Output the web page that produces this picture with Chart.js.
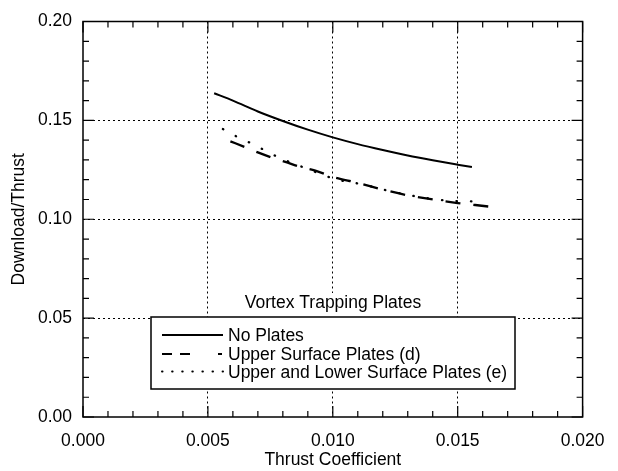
<!DOCTYPE html>
<html>
<head>
<meta charset="utf-8">
<script src="https://cdn.jsdelivr.net/npm/chart.js@4.4.1/dist/chart.umd.min.js"></script>
<style>
  html, body { margin: 0; padding: 0; background: #fff; }
  #wrap { position: relative; width: 618px; height: 471px; }
</style>
</head>
<body>
<div id="wrap"><canvas id="chart"></canvas></div>
<script>
// values
const noPlatesX = [0.00525, 0.0060, 0.0070, 0.0080, 0.0090, 0.0100, 0.0110, 0.0120, 0.0130, 0.0140, 0.0150, 0.01557];
const noPlatesY = [0.1637, 0.1600, 0.1545, 0.1497, 0.1453, 0.1414, 0.1380, 0.1350, 0.1322, 0.1298, 0.1276, 0.1264];

const upperX = [0.0059, 0.0065, 0.0070, 0.0076, 0.0081, 0.0087, 0.0093, 0.0100, 0.0110, 0.0120, 0.0130, 0.0140, 0.0150, 0.0157, 0.0164];
const upperY = [0.1394, 0.1364, 0.1338, 0.1310, 0.1290, 0.1265, 0.1246, 0.1214, 0.1184, 0.1150, 0.1121, 0.1100, 0.1082, 0.1072, 0.1062];

const bothX = [0.0056, 0.0062, 0.0068, 0.0078, 0.0090, 0.0101, 0.0112, 0.0123, 0.0135, 0.0146, 0.0156];
const bothY = [0.1456, 0.1415, 0.1380, 0.1315, 0.1254, 0.1203, 0.1176, 0.1142, 0.1112, 0.1094, 0.1090];

const seriesLabels = ['No Plates', 'Upper Surface Plates (d)', 'Upper and Lower Surface Plates (e)'];
const legendTitle = 'Vortex Trapping Plates';
const xTitle = 'Thrust Coefficient';
const yTitle = 'Download/Thrust';

const FONT = '"Liberation Sans", Arial, Helvetica, sans-serif';
const FS = 17.5;

const toPts = (xs, ys) => xs.map((x, i) => ({ x: x, y: ys[i] }));

// dotted grid only on the major ticks (every 5th), not on the frame
const gridColor = (ctx) => {
    const i = ctx.index;
    return (i % 5 === 0 && i > 0 && i < 20) ? '#000' : 'rgba(0,0,0,0)';
};

// frame, inward tick marks and the boxed legend
const framePlugin = {
    id: 'frame',
    afterDatasetsDraw(chart) {
        const { ctx, chartArea: a, scales: { x, y } } = chart;
        ctx.save();
        ctx.strokeStyle = '#000';
        ctx.lineWidth = 1.5;
        ctx.strokeRect(a.left, a.top, a.right - a.left, a.bottom - a.top);

        ctx.lineWidth = 1.2;
        ctx.beginPath();
        x.ticks.forEach((t, i) => {
            const px = x.getPixelForTick(i);
            const len = i % 5 === 0 ? 11 : 6;
            ctx.moveTo(px, a.bottom); ctx.lineTo(px, a.bottom - len);
            ctx.moveTo(px, a.top); ctx.lineTo(px, a.top + len);
        });
        y.ticks.forEach((t, i) => {
            const py = y.getPixelForTick(i);
            const len = i % 5 === 0 ? 11 : 6;
            ctx.moveTo(a.left, py); ctx.lineTo(a.left + len, py);
            ctx.moveTo(a.right, py); ctx.lineTo(a.right - len, py);
        });
        ctx.stroke();

        // legend
        const bx = 151, by = 317, bw = 364, bh = 72;
        ctx.font = FS + 'px ' + FONT;
        ctx.fillStyle = '#fff';
        const tw = ctx.measureText(legendTitle).width;
        const cx = bx + bw / 2;
        ctx.fillRect(cx - tw / 2 - 4, by - 24, tw + 8, 24);
        ctx.fillRect(bx, by, bw, bh);
        ctx.lineWidth = 1.5;
        ctx.strokeStyle = '#000';
        ctx.strokeRect(bx, by, bw, bh);

        ctx.fillStyle = '#000';
        ctx.textBaseline = 'alphabetic';
        ctx.textAlign = 'center';
        ctx.fillText(legendTitle, cx, 308);

        const dashes = [[], [10, 8, 10, 28, 4, 40], [0.5, 9.6]];
        const caps = ['butt', 'butt', 'round'];
        const widths = [1.8, 2, 2];
        const rowY = [341, 360, 377.5];
        ctx.textAlign = 'left';
        seriesLabels.forEach((lab, i) => {
            const ly = rowY[i] - 6;
            ctx.beginPath();
            ctx.setLineDash(dashes[i]);
            ctx.lineCap = caps[i];
            ctx.lineWidth = widths[i];
            ctx.moveTo(162, ly);
            ctx.lineTo(223, ly);
            ctx.stroke();
            ctx.setLineDash([]);
            ctx.fillText(lab, 228, rowY[i]);
        });
        ctx.restore();
    }
};

new Chart(document.getElementById('chart'), {
    type: 'line',
    data: {
        datasets: [
            {
                label: seriesLabels[0],
                data: toPts(noPlatesX, noPlatesY),
                borderColor: '#000',
                borderWidth: 2,
                pointRadius: 0,
                cubicInterpolationMode: 'monotone'
            },
            {
                label: seriesLabels[1],
                data: toPts(upperX, upperY),
                borderColor: '#000',
                borderWidth: 2.3,
                borderDash: [15, 13],
                pointRadius: 0,
                cubicInterpolationMode: 'monotone'
            },
            {
                label: seriesLabels[2],
                data: toPts(bothX, bothY),
                borderColor: '#000',
                borderWidth: 2.3,
                borderDash: [0.5, 14],
                borderCapStyle: 'round',
                pointRadius: 0,
                cubicInterpolationMode: 'monotone'
            }
        ]
    },
    options: {
        responsive: true,
        maintainAspectRatio: false,
        animation: false,
        layout: { padding: { top: 20, right: 35, left: 0, bottom: 0 } },
        plugins: {
            legend: { display: false },
            tooltip: { enabled: false }
        },
        scales: {
            x: {
                type: 'linear',
                min: 0,
                max: 0.02,
                ticks: {
                    stepSize: 0.001,
                    autoSkip: false,
                    maxRotation: 0,
                    padding: 13.5,
                    color: '#000',
                    font: { family: FONT, size: FS },
                    callback: (v, i) => i % 5 === 0 ? (i * 0.001).toFixed(3) : ''
                },
                grid: { color: gridColor, lineWidth: 1, drawTicks: false },
                border: { display: false, dash: [2, 3] },
                title: {
                    display: true, text: xTitle, color: '#000',
                    font: { family: FONT, size: FS },
                    padding: { top: 0, bottom: 0 }
                },
                afterFit: (s) => { s.height = 54; }
            },
            y: {
                min: 0,
                max: 0.2,
                ticks: {
                    stepSize: 0.01,
                    autoSkip: false,
                    padding: 11,
                    color: '#000',
                    font: { family: FONT, size: FS },
                    callback: (v, i) => i % 5 === 0 ? (i * 0.01).toFixed(2) : ''
                },
                grid: { color: gridColor, lineWidth: 1, drawTicks: false },
                border: { display: false, dash: [2, 3] },
                title: {
                    display: true, text: yTitle, color: '#000',
                    font: { family: FONT, size: FS },
                    padding: { top: 8.5, bottom: 0 }
                },
                afterFit: (s) => { s.width = 83; }
            }
        }
    },
    plugins: [framePlugin]
});
</script>
</body>
</html>
